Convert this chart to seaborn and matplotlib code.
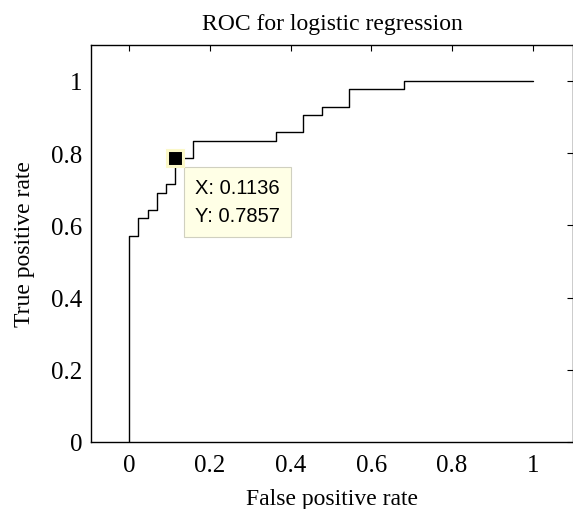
import matplotlib
matplotlib.use("Agg")
import matplotlib.pyplot as plt
import seaborn as sns
import numpy as np
import pandas as pd

# ROC vertices as counts: false positives out of 44 negatives, true positives out of 42 positives
n_neg = 44
n_pos = 42
fp_counts = [0, 0, 1, 1, 2, 2, 3, 3, 4, 4, 5, 5, 7, 7, 16, 16, 19, 19, 21, 21, 24, 24, 30, 30, 44]
tp_counts = [0, 24, 24, 26, 26, 27, 27, 29, 29, 30, 30, 33, 33, 35, 35, 36, 36, 38, 38, 39, 39, 41, 41, 42, 42]
tip_index = 11  # data tip on (5/44, 33/42)

x_ticks = [0, 0.2, 0.4, 0.6, 0.8, 1]
y_ticks = [0, 0.2, 0.4, 0.6, 0.8, 1]
tick_labels = ["0", "0.2", "0.4", "0.6", "0.8", "1"]

roc = pd.DataFrame({
    "fpr": np.array(fp_counts) / n_neg,
    "tpr": np.array(tp_counts) / n_pos,
})

sns.set_theme(style="white")
plt.rcParams["font.family"] = ["Liberation Serif", "DejaVu Serif"]
plt.rcParams["text.color"] = "black"
plt.rcParams["axes.labelcolor"] = "black"

fig = plt.figure(figsize=(5.73, 5.10), dpi=100)
ax = fig.add_axes([0.1588, 0.1314, 0.8412, 0.779])

sns.lineplot(data=roc, x="fpr", y="tpr", sort=False, estimator=None,
             color="black", linewidth=1.0, ax=ax)

# data tip marker and box
tx, ty = roc["fpr"][tip_index], roc["tpr"][tip_index]
ax.plot([tx], [ty], marker="s", markersize=12, markerfacecolor="black",
        markeredgecolor="#fbf8c8", markeredgewidth=2.2, zorder=5)
ax.annotate(f"X: {tx:.4f}\nY: {ty:.4f}", xy=(tx, ty), xytext=(14, -31.5),
            textcoords="offset points", ha="left", va="center",
            fontsize=14.5, family=["Liberation Sans", "DejaVu Sans"],
            linespacing=1.6, color="black",
            bbox=dict(boxstyle="square,pad=0.55", facecolor="#ffffe6",
                      edgecolor="#d0d0c0", linewidth=0.8))

ax.set_xlim(-0.095, 1.1)
ax.set_ylim(0, 1.1)
ax.set_xticks(x_ticks)
ax.set_xticklabels(tick_labels)
ax.set_yticks(y_ticks)
ax.set_yticklabels(tick_labels)
ax.tick_params(direction="in", top=True, right=True, length=4, width=0.8,
               labelsize=18, colors="black", pad=6)
ax.tick_params(axis="x", pad=9)
for s in ax.spines.values():
    s.set_color("black")
    s.set_linewidth(1.0)

ax.set_title("ROC for logistic regression", fontsize=17, pad=11, color="black")
ax.set_xlabel("False positive rate", fontsize=17, labelpad=8)
ax.set_ylabel("True positive rate", fontsize=17, labelpad=12)

fig.savefig("out.png", dpi=100)
